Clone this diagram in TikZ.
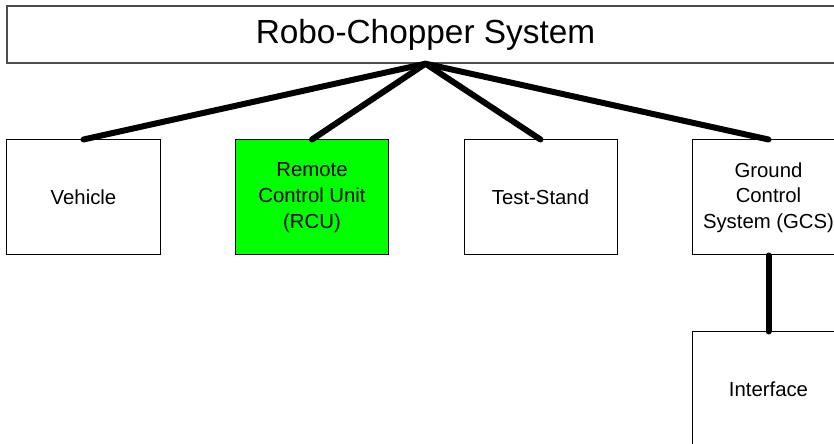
\documentclass[tikz,border=0pt]{standalone}
\usepackage{fontspec}
\setmainfont{Liberation Sans}
\begin{document}
\begin{tikzpicture}[x=1bp,y=-1bp,
  boxstyle/.style={draw=black, line width=1bp, fill=white, minimum width=153bp, minimum height=115bp, inner sep=0pt, align=center, font=\fontsize{20.4}{25.8}\selectfont},
  titlestyle/.style={draw=black!70, line width=1.4bp, fill=white, minimum width=837bp, minimum height=57bp, inner sep=0pt, font=\fontsize{33.5}{40}\selectfont},
  link/.style={line width=6bp, line cap=round, black}]
\useasboundingbox (0,0) rectangle (834,444);
\fill[white] (0,0) rectangle (834,444);
\clip (0,0) rectangle (834,444);
\node[titlestyle] (sys) at (425.5,34.5) {Robo-Chopper System};
\node[boxstyle] (veh) at (83.5,197.5) {Vehicle};
\node[boxstyle, fill={rgb,255:red,0;green,255;blue,0}] (rcu) at (312,197.5) {Remote\\Control Unit\\(RCU)};
\node[boxstyle] (ts) at (540.5,197.5) {Test-Stand};
\node[boxstyle] (gcs) at (768.5,197.5) {Ground\\Control\\System (GCS)};
\node[boxstyle] (intf) at (768.5,389.5) {Interface};
\draw[link] (sys.south) -- (veh.north);
\draw[link] (sys.south) -- (rcu.north);
\draw[link] (sys.south) -- (ts.north);
\draw[link] (sys.south) -- (gcs.north);
\draw[link] (gcs.south) -- (intf.north);
\end{tikzpicture}
\end{document}
